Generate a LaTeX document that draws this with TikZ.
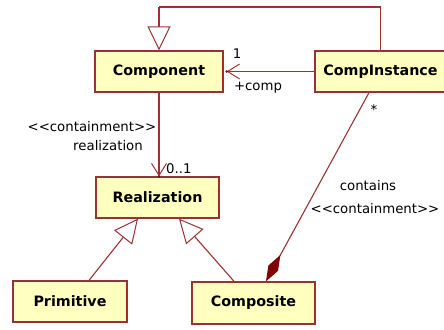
\documentclass[tikz,border=0pt]{standalone}
\usepackage{fontspec}
\setmainfont{DejaVu Sans}
\usetikzlibrary{arrows.meta}
\definecolor{umlline}{HTML}{993333}
\definecolor{umlfill}{HTML}{FFFFC0}
\definecolor{umldark}{HTML}{800000}
\newcommand{\stereo}[1]{{<}{<}#1{>}{>}}
\tikzset{
  classbox/.style={draw=umlline, fill=umlfill, line width=1.3pt, inner sep=0pt,
    minimum height=41pt, font=\fontsize{14.3}{16}\selectfont\bfseries},
  link/.style={draw=umlline, line width=1.1pt},
  lbl/.style={font=\fontsize{13.3}{15}\selectfont, inner sep=0pt},
  gen/.style={link, -{Triangle[open, length=24pt, width=23pt, line width=1pt, fill=white]}},
  assoc/.style={link, -{Straight Barb[length=12pt, width=15pt, line width=1pt]}},
  compo/.style={link, -{Diamond[length=30pt, width=11pt, fill=umldark, color=umldark]}},
}
\begin{document}
\begin{tikzpicture}[x=1pt, y=-1pt]
  \useasboundingbox (0,0) rectangle (444,329);
  \begin{scope}
    \clip (0,0) rectangle (444,329);
    \node[classbox, minimum width=128pt] (comp) at (159,71.5) {Component};
    \node[classbox, minimum width=131pt] (ci) at (380.5,71.5) {CompInstance};
    \node[classbox, minimum width=123pt] (real) at (157.5,197.5) {Realization};
    \node[classbox, minimum width=114pt] (prim) at (70,301.5) {Primitive};
    \node[classbox, minimum width=123pt, minimum height=42pt] (cmp) at (253.5,303) {Composite};

    % CompInstance specialises Component
    \coordinate (topr) at (ci.north |- 0,7);
    \coordinate (topl) at (comp.north |- 0,7);
    \draw[link] (ci.north) -- (topr) -- (topl);
    \draw[gen] (topl) -- (comp.north);

    % association +comp
    \draw[assoc] (ci.west) -- ([xshift=3pt]comp.east);
    \fill[umldark] ([xshift=3pt]comp.east) circle (1.4pt);

    % containment realization
    \draw[assoc] (comp.south) -- (comp.south |- real.north);
    \fill[umldark] (comp.south |- real.north) circle (1.2pt);

    % Primitive and Composite specialise Realization
    \draw[gen] ([xshift=19pt]prim.north) -- ([xshift=-19.5pt]real.south);
    \draw[gen] ([xshift=-19.5pt]cmp.north) -- ([xshift=21.5pt]real.south);

    % composition contains
    \draw[compo] ([xshift=-11.5pt]ci.south) -- ([xshift=12.5pt]cmp.north);

    % labels
    \node[lbl] (m1) at (237,54) {1};
    \node[lbl] (rcomp) at (258,88) {+comp};
    \node[lbl] (st1) at (92,127) {\stereo{containment}};
    \node[lbl] (rreal) at (108,146) {realization};
    \node[lbl, anchor=west] (m01) at (166,169) {0..1};
    \node[lbl] (mstar) at (374,110) {*};
    \node[lbl] (rcont) at (368,186) {contains};
    \node[lbl] (st2) at (375,209) {\stereo{containment}};
  \end{scope}
\end{tikzpicture}
\end{document}
